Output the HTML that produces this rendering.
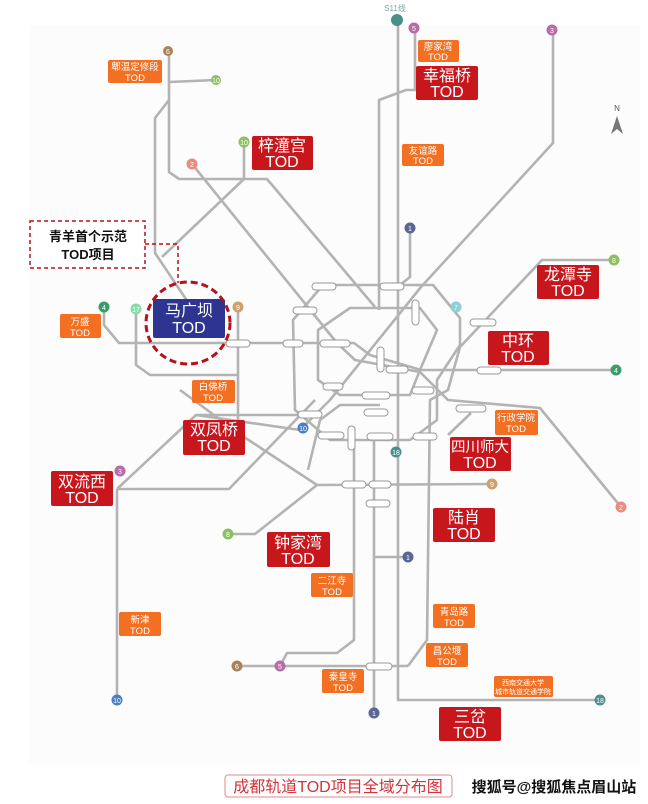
<!DOCTYPE html>
<html><head><meta charset="utf-8"><style>
html,body{margin:0;padding:0;background:#fff;}
svg{display:block;font-family:"Liberation Sans","Noto Sans CJK SC",sans-serif;}
.l{fill:none;stroke:#b3b3b3;stroke-width:2.6;stroke-linejoin:round;}
.rb{fill:#c8161d;}
.ob{fill:#f36f21;}
.rt{fill:#fff;font-size:16px;text-anchor:middle;}
.ot{fill:#fff;font-size:9.5px;text-anchor:middle;}
.st{fill:#fff;stroke:#999;stroke-width:1;}
.n{font-size:7px;fill:#fff;text-anchor:middle;}
</style></head><body>
<svg width="648" height="804" viewBox="0 0 648 804">
<rect x="30" y="25" width="610" height="740" fill="#fcfcfc"/>
<g class="l">
<polyline points="169,51 169,172 179,179 267,179 375,307"/>
<polyline points="169,82 216,80"/>
<polyline points="169,100 155,118 155,253 200,320"/>
<polyline points="244,142 244,179 162,257"/>
<polyline points="192,164 337,343 355,360 420,372 448,400 540,408 621,507"/>
<polyline points="553,30 553,143 421,287 330,400 300,430 196,415 117,489"/>
<polyline points="415,27 415,90 406,90 379,100 379,310"/>
<polyline points="398,20 398,700 600,700"/>
<polyline points="410,228 410,277 400,285"/>
<polyline points="615,260 542,260 460,347 448,390 430,400 427,640 408,666"/>
<polyline points="104,307 104,325 119,343 354,343 370,355 421,370 616,370"/>
<polyline points="136,310 136,365 150,375 237,375"/>
<polyline points="238,307 238,420"/>
<polyline points="117,489 117,700"/>
<polyline points="117,489 229,489 315,400"/>
<polyline points="228,534 255,534 317,485 492,484"/>
<polyline points="180,390 244,437 317,485"/>
<polyline points="196,415 300,415"/>
<polyline points="354,427 354,640 337,653 287,653 280,666"/>
<polyline points="237,666 392,666 408,666"/>
<polyline points="374,433 374,713"/>
<polyline points="374,557 408,557"/>
<polyline points="448,435 471,413"/>
<polygon points="323,285 433,285 460,318 460,345 437,380 437,420 410,440 330,440 295,410 293,320"/>
<polygon points="350,308 420,308 437,330 420,370 410,395 340,395 318,380 318,330"/>
<polyline points="308,470 320,420 340,405 380,405"/>
</g>
<g class="st">
<rect x="312" y="283" width="24" height="7" rx="3.5"/><rect x="380" y="283" width="24" height="7" rx="3.5"/>
<rect x="293" y="307" width="24" height="7" rx="3.5"/><rect x="283" y="340" width="20" height="7" rx="3.5"/>
<rect x="320" y="340" width="30" height="7" rx="3.5"/><rect x="226" y="340" width="24" height="7" rx="3.5"/>
<rect x="412" y="300" width="7" height="25" rx="3.5"/><rect x="377" y="347" width="7" height="25" rx="3.5"/>
<rect x="386" y="366" width="22" height="7" rx="3.5"/><rect x="323" y="383" width="20" height="7" rx="3.5"/>
<rect x="362" y="392" width="28" height="7" rx="3.5"/><rect x="412" y="387" width="22" height="7" rx="3.5"/>
<rect x="364" y="409" width="24" height="7" rx="3.5"/><rect x="298" y="411" width="24" height="7" rx="3.5"/>
<rect x="318" y="432" width="26" height="7" rx="3.5"/><rect x="348" y="426" width="7" height="24" rx="3.5"/>
<rect x="367" y="433" width="26" height="7" rx="3.5"/><rect x="413" y="433" width="24" height="7" rx="3.5"/>
<rect x="456" y="405" width="30" height="7" rx="3.5"/><rect x="470" y="319" width="26" height="7" rx="3.5"/>
<rect x="477" y="367" width="24" height="7" rx="3.5"/><rect x="342" y="481" width="24" height="7" rx="3.5"/>
<rect x="369" y="481" width="22" height="7" rx="3.5"/><rect x="366" y="500" width="24" height="7" rx="3.5"/>
<rect x="366" y="663" width="26" height="7" rx="3.5"/>
</g>
<g>
<circle cx="168" cy="51" r="5" fill="#a9845a"/><text class="n" x="168" y="54">6</text>
<circle cx="216" cy="80" r="5" fill="#8cc063"/><text class="n" x="216" y="83">10</text>
<circle cx="397" cy="20" r="6" fill="#4a8f8c"/>
<text x="395" y="11" font-size="8" fill="#7aa9a8" text-anchor="middle">S11线</text>
<circle cx="414" cy="28" r="5.5" fill="#b66ca8"/><text class="n" x="414" y="31">5</text>
<circle cx="552" cy="30" r="5.5" fill="#b66ca8"/><text class="n" x="552" y="33">3</text>
<circle cx="244" cy="142" r="5.5" fill="#8cc063"/><text class="n" x="244" y="145">10</text>
<circle cx="192" cy="164" r="5.5" fill="#ec8c7c"/><text class="n" x="192" y="167">2</text>
<circle cx="410" cy="228" r="5.5" fill="#5b6793"/><text class="n" x="410" y="231">1</text>
<circle cx="614" cy="260" r="5.5" fill="#8cc063"/><text class="n" x="614" y="263">8</text>
<circle cx="104" cy="307" r="5.5" fill="#3c9c6c"/><text class="n" x="104" y="310">4</text>
<circle cx="136" cy="309" r="5.5" fill="#88dca8"/><text class="n" x="136" y="312">17</text>
<circle cx="238" cy="307" r="5.5" fill="#cfa06a"/><text class="n" x="238" y="310">9</text>
<circle cx="456" cy="307" r="5.5" fill="#8ccfd4"/><text class="n" x="456" y="310">7</text>
<circle cx="616" cy="370" r="5.5" fill="#3c9c6c"/><text class="n" x="616" y="373">4</text>
<circle cx="303" cy="428" r="5.5" fill="#4a7ec6"/><text class="n" x="303" y="431">10</text>
<circle cx="396" cy="452" r="5.5" fill="#4a8f8c"/><text class="n" x="396" y="455">18</text>
<circle cx="120" cy="471" r="5.5" fill="#b66ca8"/><text class="n" x="120" y="474">3</text>
<circle cx="492" cy="484" r="5.5" fill="#cfa06a"/><text class="n" x="492" y="487">9</text>
<circle cx="621" cy="507" r="5.5" fill="#ec8c7c"/><text class="n" x="621" y="510">2</text>
<circle cx="228" cy="534" r="5.5" fill="#8cc063"/><text class="n" x="228" y="537">8</text>
<circle cx="408" cy="557" r="5.5" fill="#5b6793"/><text class="n" x="408" y="560">1</text>
<circle cx="237" cy="666" r="5.5" fill="#a9845a"/><text class="n" x="237" y="669">6</text>
<circle cx="280" cy="666" r="5.5" fill="#b66ca8"/><text class="n" x="280" y="669">5</text>
<circle cx="600" cy="700" r="5.5" fill="#4a8f8c"/><text class="n" x="600" y="703">18</text>
<circle cx="117" cy="700" r="5.5" fill="#4a7ec6"/><text class="n" x="117" y="703">10</text>
<circle cx="374" cy="713" r="5.5" fill="#5b6793"/><text class="n" x="374" y="716">1</text>
</g>
<text x="617" y="111" font-size="8" fill="#555" text-anchor="middle">N</text>
<polygon points="617,116 611,134 617,129 623,134" fill="#777"/>
<g>
<rect class="ob" x="108" y="60" width="54" height="23" rx="2"/><text class="ot" x="135" y="70">郫温定修段</text><text class="ot" x="135" y="81">TOD</text>
<rect class="ob" x="418" y="40" width="41" height="22" rx="2"/><text class="ot" x="438" y="50">廖家湾</text><text class="ot" x="438" y="60">TOD</text>
<rect class="ob" x="402" y="144" width="42" height="22" rx="2"/><text class="ot" x="423" y="154">友谊路</text><text class="ot" x="423" y="164">TOD</text>
<rect class="ob" x="60" y="314" width="41" height="24" rx="2"/><text class="ot" x="80" y="325">万盛</text><text class="ot" x="80" y="336">TOD</text>
<rect class="ob" x="192" y="380" width="43" height="23" rx="2"/><text class="ot" x="213" y="390">白佛桥</text><text class="ot" x="213" y="401">TOD</text>
<rect class="ob" x="495" y="410" width="43" height="25" rx="2"/><text class="ot" x="516" y="421">行政学院</text><text class="ot" x="516" y="432">TOD</text>
<rect class="ob" x="311" y="573" width="42" height="24" rx="2"/><text class="ot" x="332" y="584">二江寺</text><text class="ot" x="332" y="595">TOD</text>
<rect class="ob" x="119" y="612" width="42" height="24" rx="2"/><text class="ot" x="140" y="623">新津</text><text class="ot" x="140" y="634">TOD</text>
<rect class="ob" x="433" y="604" width="42" height="24" rx="2"/><text class="ot" x="454" y="615">青岛路</text><text class="ot" x="454" y="626">TOD</text>
<rect class="ob" x="426" y="643" width="42" height="24" rx="2"/><text class="ot" x="447" y="654">昌公堰</text><text class="ot" x="447" y="665">TOD</text>
<rect class="ob" x="322" y="669" width="42" height="24" rx="2"/><text class="ot" x="343" y="680">秦皇寺</text><text class="ot" x="343" y="691">TOD</text>
<rect class="ob" x="494" y="676" width="59" height="21" rx="2"/><text class="ot" x="523" y="685" style="font-size:7px">西南交通大学</text><text class="ot" x="523" y="694" style="font-size:7px">城市轨道交通学院</text>
</g>
<g>
<rect class="rb" x="416" y="66" width="62" height="34" rx="2"/><text class="rt" x="447" y="81">幸福桥</text><text class="rt" x="447" y="97">TOD</text>
<rect class="rb" x="252" y="136" width="61" height="34" rx="2"/><text class="rt" x="282" y="151">梓潼宫</text><text class="rt" x="282" y="167">TOD</text>
<rect class="rb" x="537" y="265" width="62" height="34" rx="2"/><text class="rt" x="568" y="280">龙潭寺</text><text class="rt" x="568" y="296">TOD</text>
<rect class="rb" x="488" y="331" width="61" height="34" rx="2"/><text class="rt" x="518" y="346">中环</text><text class="rt" x="518" y="362">TOD</text>
<rect class="rb" x="183" y="420" width="62" height="35" rx="2"/><text class="rt" x="214" y="435">双凤桥</text><text class="rt" x="214" y="451">TOD</text>
<rect class="rb" x="450" y="437" width="61" height="34" rx="2"/><text class="rt" x="480" y="452" style="font-size:14.5px">四川师大</text><text class="rt" x="480" y="468">TOD</text>
<rect class="rb" x="51" y="471" width="62" height="35" rx="2"/><text class="rt" x="82" y="487">双流西</text><text class="rt" x="82" y="503">TOD</text>
<rect class="rb" x="433" y="508" width="62" height="34" rx="2"/><text class="rt" x="464" y="523">陆肖</text><text class="rt" x="464" y="539">TOD</text>
<rect class="rb" x="267" y="532" width="63" height="35" rx="2"/><text class="rt" x="298" y="548">钟家湾</text><text class="rt" x="298" y="564">TOD</text>
<rect class="rb" x="439" y="707" width="62" height="34" rx="2"/><text class="rt" x="470" y="722">三岔</text><text class="rt" x="470" y="738">TOD</text>
</g>
<rect x="153" y="299" width="72" height="39" rx="2" fill="#2e3591"/>
<text class="rt" x="189" y="316">马广坝</text><text class="rt" x="189" y="333">TOD</text>
<ellipse cx="188" cy="323" rx="42" ry="41" fill="none" stroke="#b5121b" stroke-width="3" stroke-dasharray="7,4"/>
<rect x="30" y="221" width="115" height="47" fill="#fff" stroke="#b5121b" stroke-width="1.5" stroke-dasharray="4,3"/>
<polyline points="145,244 178,244 178,283" fill="none" stroke="#b5121b" stroke-width="1.5" stroke-dasharray="4,3"/>
<text x="88" y="241" font-size="13" font-weight="bold" text-anchor="middle" fill="#111">青羊首个示范</text>
<text x="88" y="259" font-size="13" font-weight="bold" text-anchor="middle" fill="#111">TOD项目</text>
<rect x="225" y="775" width="227" height="22" rx="3" fill="#fff" stroke="#e08a8a" stroke-width="1"/>
<text x="338" y="792" font-size="16" fill="#d0333a" text-anchor="middle">成都轨道TOD项目全域分布图</text>
<text x="554" y="792" font-size="15" font-weight="bold" fill="#111" text-anchor="middle">搜狐号@搜狐焦点眉山站</text>
</svg>
</body></html>
